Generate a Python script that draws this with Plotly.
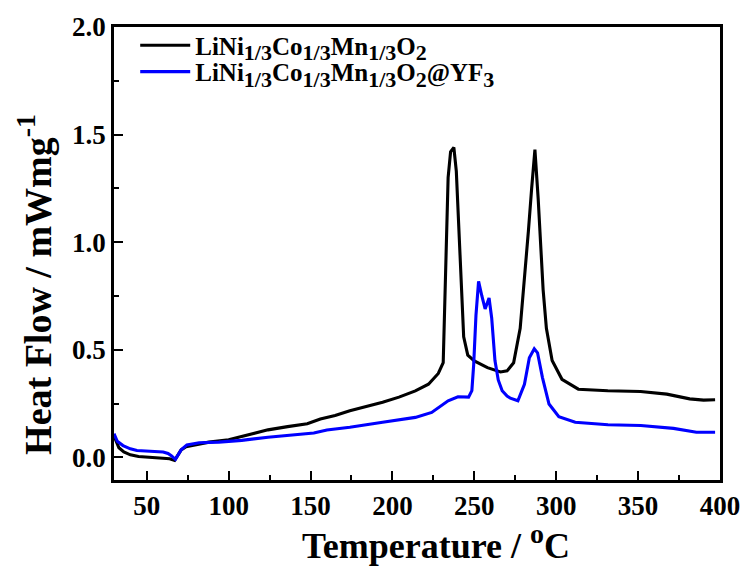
import plotly.graph_objects as go

# Pristine LiNi1/3Co1/3Mn1/3O2
t_black = [30, 33, 36, 40, 45, 50, 55, 60, 64, 67, 69, 71, 74, 80, 88, 100, 112, 124, 136, 148,
           156, 165, 174, 184, 194, 204, 214, 222, 228, 231, 232.5, 234, 235.5, 237.5, 239, 240.5,
           242, 243.5, 246, 250, 258, 266, 270, 274, 278, 281, 283, 285, 287, 289, 290.5, 292, 294,
           297.5, 303.5, 313.5, 331.5, 351.5, 367.5, 381.5, 390, 397]
hf_black = [0.10, 0.045, 0.025, 0.012, 0.004, 0.001, 0.0, -0.002, -0.006, -0.014, 0.012, 0.035,
            0.05, 0.06, 0.071, 0.082, 0.106, 0.128, 0.143, 0.156, 0.178, 0.195, 0.217, 0.235, 0.256,
            0.28, 0.309, 0.34, 0.39, 0.44, 0.9, 1.3, 1.42, 1.44, 1.33, 1.05, 0.8, 0.56, 0.475, 0.448,
            0.417, 0.397, 0.402, 0.44, 0.6, 0.85, 1.05, 1.25, 1.43, 1.2, 0.98, 0.78, 0.6, 0.45, 0.363,
            0.317, 0.31, 0.306, 0.294, 0.272, 0.266, 0.268]

# YF3 coated
t_blue = [30, 32, 35.5, 40, 44, 52, 60, 63, 65, 67.5, 69, 71, 74.5, 82, 94, 108, 124, 140, 152, 160,
          174, 194, 214, 224, 234, 240, 246.5, 248.5, 249.6, 251, 252.6, 254.6, 256.6, 259, 260.6,
          262.6, 264.6, 267, 270, 272, 276.6, 280.6, 283.6, 286.6, 288.6, 291.6, 295.6, 301.6,
          311.6, 331.6, 351.6, 371.6, 385.6, 397]
hf_blue = [0.11, 0.075, 0.055, 0.04, 0.032, 0.028, 0.025, 0.018, 0.008, -0.009, 0.01, 0.035, 0.058,
           0.068, 0.071, 0.079, 0.094, 0.106, 0.113, 0.127, 0.14, 0.163, 0.186, 0.209, 0.263, 0.282,
           0.28, 0.31, 0.43, 0.66, 0.818, 0.75, 0.69, 0.741, 0.648, 0.45, 0.36, 0.31, 0.285, 0.275,
           0.263, 0.34, 0.463, 0.505, 0.486, 0.371, 0.248, 0.189, 0.163, 0.152, 0.148, 0.135, 0.117,
           0.117]

FONT = "Liberation Serif"
SUB = '<sub><span style="font-size:22px">%s</span></sub>'
name_black = "LiNi" + SUB % "1/3" + "Co" + SUB % "1/3" + "Mn" + SUB % "1/3" + "O" + SUB % "2"
name_blue = name_black + "@YF" + SUB % "3"
x_title = 'Temperature / <sup><span style="font-size:28px">o</span></sup>C'
y_title = 'Heat Flow / mWmg<sup><span style="font-size:28px">-1</span></sup>'

fig = go.Figure()
fig.add_trace(go.Scatter(x=t_black, y=hf_black, mode="lines", name=name_black, legend="legend",
                         showlegend=True, line=dict(color="black", width=3.1)))
fig.add_trace(go.Scatter(x=t_blue, y=hf_blue, mode="lines", name=name_blue, legend="legend2",
                         showlegend=True, line=dict(color="#0000ff", width=3.1)))

axis_common = dict(showline=True, linecolor="black", linewidth=2.5, mirror=True,
                   ticks="inside", ticklen=9, tickwidth=2, tickcolor="black",
                   showgrid=False, zeroline=False,
                   tickfont=dict(family=FONT, size=27, color="black", weight="bold"))

fig.update_xaxes(range=[30, 400], tick0=0, dtick=50,
                 minor=dict(ticks="inside", dtick=25, ticklen=5, tickwidth=2, tickcolor="black"),
                 **axis_common)
fig.update_yaxes(range=[-0.105, 2.0], tick0=0, dtick=0.5, tickformat=".1f",
                 minor=dict(ticks="inside", dtick=0.25, ticklen=5, tickwidth=2, tickcolor="black"),
                 **axis_common)

fig.add_annotation(text=x_title, xref="paper", yref="paper", x=0.531, y=-0.137,
                   xanchor="center", yanchor="middle", showarrow=False,
                   font=dict(family=FONT, size=36, color="black", weight="bold"))
fig.add_annotation(text=y_title, xref="paper", yref="paper", x=-0.131, y=0.432,
                   xanchor="center", yanchor="middle", showarrow=False, textangle=-90,
                   font=dict(family=FONT, size=38, color="black", weight="bold"))

legend_common = dict(x=0.035, xanchor="left", yanchor="middle",
                     bgcolor="rgba(0,0,0,0)", itemwidth=50,
                     font=dict(family=FONT, size=25, color="black", weight="bold"))

fig.update_layout(
    width=752, height=568,
    margin=dict(l=114, r=24, t=24, b=88),
    plot_bgcolor="white", paper_bgcolor="white",
    showlegend=True,
    legend=dict(y=0.959, **legend_common),
    legend2=dict(y=0.901, **legend_common),
)

fig.write_html("out.html", config={"displayModeBar": False},
               post_script="document.body.style.margin='0';")
